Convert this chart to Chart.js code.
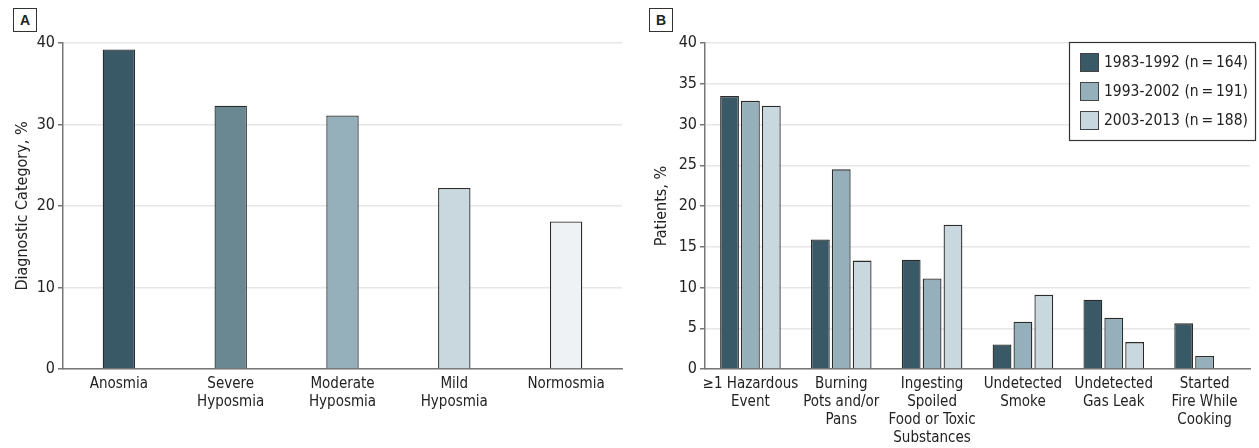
<!DOCTYPE html>
<html>
<head>
<meta charset="utf-8">
<script src="https://cdn.jsdelivr.net/npm/chart.js@4/dist/chart.umd.min.js"></script>
<style>
  body { margin: 0; background: #fff; width: 1259px; height: 448px; position: relative; overflow: hidden; }
  .panel { position: absolute; top: 0; height: 448px; }
  .tag { position: absolute; width: 22px; height: 22px; border: 1px solid #333; font: bold 14px "Liberation Sans", Arial, sans-serif;
         text-align: center; line-height: 22px; color: #222; background: #fff; z-index: 2; }
</style>
</head>
<body>
<div class="tag" style="left:13px;top:8px">A</div>
<div class="tag" style="left:649px;top:8px">B</div>
<div class="panel" style="left:0;width:630px"><canvas id="chartA"></canvas></div>
<div class="panel" style="left:640px;width:619px"><canvas id="chartB"></canvas></div>
<script>
// panel A
var diagCategories = ['Anosmia', ['Severe', 'Hyposmia'], ['Moderate', 'Hyposmia'], ['Mild', 'Hyposmia'], 'Normosmia'];
var diagValues = [39.2, 32.3, 31.1, 22.2, 18.1];
var diagColors = ['#3a5966', '#6a8892', '#96b0bb', '#c9d7de', '#eef2f5'];

// panel B
var eventCategories = [['\u22651 Hazardous', 'Event'], ['Burning', 'Pots and/or', 'Pans'], ['Ingesting', 'Spoiled', 'Food or Toxic', 'Substances'],
  ['Undetected', 'Smoke'], ['Undetected', 'Gas Leak'], ['Started', 'Fire While', 'Cooking']];
var period1Label = '1983-1992 (n\u2009=\u2009164)';
var period2Label = '1993-2002 (n\u2009=\u2009191)';
var period3Label = '2003-2013 (n\u2009=\u2009188)';
var period1 = [33.5, 15.9, 13.4, 3.0, 8.5, 5.6];
var period2 = [32.9, 24.5, 11.1, 5.8, 6.3, 1.6];
var period3 = [32.3, 13.3, 17.7, 9.1, 3.3, 0];

var fontFam = '"Liberation Sans Narrow", "DejaVu Sans Condensed", "Liberation Sans", sans-serif';
Chart.defaults.font.family = fontFam;
Chart.defaults.color = '#222';

function yScale(max, step, title, width, titleGap) {
  return {
    min: 0, max: max,
    ticks: { stepSize: step, font: { size: 16 }, color: '#222', padding: 3 },
    grid: { color: '#e6e6e6', lineWidth: 1.5, tickColor: '#777', tickLength: 5 },
    border: { color: '#777', width: 1.5 },
    title: { display: true, text: title, font: { size: 16 }, color: '#222', padding: { top: titleGap, bottom: 2 } },
    afterFit: function (s) { s.width = width; }
  };
}

function xScale() {
  return {
    grid: { display: false, drawTicks: false },
    border: { color: '#777', width: 1.5 },
    ticks: { font: { size: 15, lineHeight: 1.2 }, color: '#222', padding: 6, maxRotation: 0, autoSkip: false },
    afterFit: function (s) { s.height = 79; }
  };
}

new Chart(document.getElementById('chartA'), {
  type: 'bar',
  data: {
    labels: diagCategories,
    datasets: [{
      data: diagValues,
      backgroundColor: diagColors,
      borderColor: '#2b2b2b',
      borderWidth: 1.3,
      categoryPercentage: 1,
      barPercentage: 0.29
    }]
  },
  options: {
    responsive: true, maintainAspectRatio: false, animation: false,
    layout: { padding: { top: 43, right: 8, left: 0, bottom: 0 } },
    plugins: { legend: { display: false }, tooltip: { enabled: false } },
    scales: { x: xScale(), y: yScale(40, 10, 'Diagnostic Category, %', 63, 13) }
  }
});

// boxed legend drawn inside the plot area, top right
var boxLegend = {
  id: 'boxLegend',
  afterDraw: function (chart) {
    var ctx = chart.ctx, area = chart.chartArea;
    var w = 187, h = 99;
    var x0 = area.right + 6 - w, y0 = area.top - 1;
    ctx.save();
    ctx.fillStyle = '#fff';
    ctx.fillRect(x0, y0, w, h);
    ctx.strokeStyle = '#333';
    ctx.lineWidth = 1.2;
    ctx.strokeRect(x0 + 0.5, y0 + 0.5, w - 1, h - 1);
    ctx.font = '15.5px ' + fontFam;
    ctx.textBaseline = 'middle';
    chart.data.datasets.forEach(function (ds, i) {
      var cy = y0 + 20 + i * 29;
      ctx.fillStyle = ds.backgroundColor;
      ctx.fillRect(x0 + 11, cy - 9, 19, 19);
      ctx.strokeStyle = '#444';
      ctx.lineWidth = 1;
      ctx.strokeRect(x0 + 11.5, cy - 8.5, 18, 18);
      ctx.fillStyle = '#222';
      ctx.fillText(ds.label, x0 + 35, cy + 1);
    });
    ctx.restore();
  }
};

function barSet(label, values, color) {
  return {
    label: label, data: values, backgroundColor: color,
    borderColor: '#2b2b2b', borderWidth: 1.3,
    categoryPercentage: 0.69, barPercentage: 0.9
  };
}

new Chart(document.getElementById('chartB'), {
  type: 'bar',
  data: {
    labels: eventCategories,
    datasets: [
      barSet(period1Label, period1, '#3a5966'),
      barSet(period2Label, period2, '#96b0bb'),
      barSet(period3Label, period3, '#c9d7de')
    ]
  },
  options: {
    responsive: true, maintainAspectRatio: false, animation: false,
    layout: { padding: { top: 43, right: 9, left: 0, bottom: 0 } },
    plugins: { legend: { display: false }, tooltip: { enabled: false } },
    scales: { x: xScale(), y: yScale(40, 5, 'Patients, %', 65, 12) }
  },
  plugins: [boxLegend]
});
</script>
</body>
</html>
